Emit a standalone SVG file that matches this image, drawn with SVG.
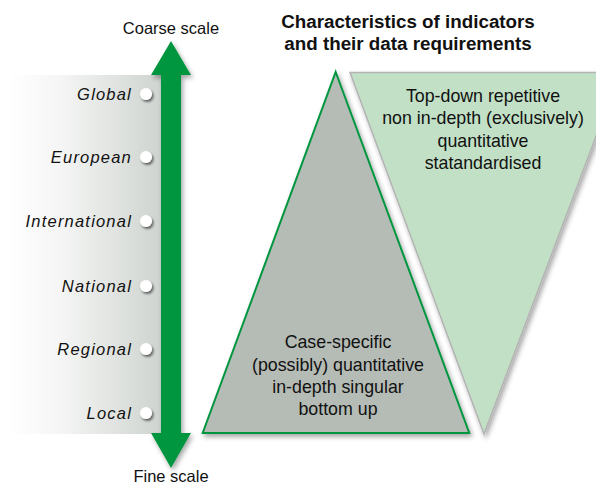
<svg xmlns="http://www.w3.org/2000/svg" width="596" height="485" viewBox="0 0 596 485">
<defs>
<linearGradient id="panel" x1="0" y1="0" x2="1" y2="0">
<stop offset="0" stop-color="#ffffff"/>
<stop offset="0.35" stop-color="#f4f5f4"/>
<stop offset="1" stop-color="#cfd4d0"/>
</linearGradient>
<filter id="sh" x="-20%" y="-20%" width="150%" height="150%">
<feDropShadow dx="2" dy="3" stdDeviation="2.5" flood-color="#000" flood-opacity="0.35"/>
</filter>
<filter id="shc" x="-50%" y="-50%" width="220%" height="220%">
<feDropShadow dx="1.5" dy="2" stdDeviation="1.2" flood-color="#000" flood-opacity="0.55"/>
</filter>
</defs>
<style>
.lvl{font-family:"Liberation Sans",Arial,sans-serif;font-style:italic;font-size:16.5px;letter-spacing:1.2px;fill:#111;text-anchor:end}
.dot{fill:#fff;filter:url(#shc)}
.sc{font-family:"Liberation Sans",Arial,sans-serif;font-size:16.5px;fill:#111;text-anchor:middle}
.ttl{font-family:"Liberation Sans",Arial,sans-serif;font-weight:bold;font-size:18.8px;fill:#111;text-anchor:middle}
.tx{font-family:"Liberation Sans",Arial,sans-serif;font-size:17.8px;fill:#111;text-anchor:middle}
</style>
<rect x="0" y="0" width="596" height="485" fill="#fff"/>
<g id="panel-bg">
<rect x="8" y="75" width="153" height="359" fill="url(#panel)"/>
</g>
<g id="scale-arrow">
<path d="M161,75 L151,75 L171,41 L191,75 L181,75 L181,433 L191,433 L171,468 L151,433 L161,433 Z" fill="#009640" filter="url(#sh)"/>
</g>
<text class="sc" x="171" y="34">Coarse scale</text>
<text class="sc" x="171" y="482">Fine scale</text>
<g id="global"><text class="lvl" x="132" y="100">Global</text><circle class="dot" cx="146" cy="94" r="6"/></g>
<g id="european"><text class="lvl" x="132" y="163">European</text><circle class="dot" cx="146" cy="157" r="6"/></g>
<g id="international"><text class="lvl" x="132" y="227">International</text><circle class="dot" cx="146" cy="221" r="6"/></g>
<g id="national"><text class="lvl" x="132" y="292">National</text><circle class="dot" cx="146" cy="286" r="6"/></g>
<g id="regional"><text class="lvl" x="132" y="355">Regional</text><circle class="dot" cx="146" cy="349" r="6"/></g>
<g id="local"><text class="lvl" x="132" y="419">Local</text><circle class="dot" cx="146" cy="413" r="6"/></g>
<g id="title">
<text class="ttl" x="408" y="28">Characteristics of indicators</text>
<text class="ttl" x="408" y="50">and their data requirements</text>
</g>
<g id="top-down">
<polygon points="350,72.5 620,72.5 484,434" fill="#c2e0c6" stroke="#b4b4b4" stroke-width="1.5" filter="url(#sh)"/>
<text class="tx" x="483" y="102">Top-down repetitive</text>
<text class="tx" x="483" y="124">non in-depth (exclusively)</text>
<text class="tx" x="483" y="147">quantitative</text>
<text class="tx" x="483" y="169">statandardised</text>
</g>
<g id="bottom-up">
<polygon points="335.7,72 469.3,433 202.7,433" fill="#b5bcb5" stroke="#009640" stroke-width="2" filter="url(#sh)"/>
<text class="tx" x="338" y="348">Case-specific</text>
<text class="tx" x="338" y="371">(possibly) quantitative</text>
<text class="tx" x="338" y="393">in-depth singular</text>
<text class="tx" x="338" y="415">bottom up</text>
</g>
</svg>
